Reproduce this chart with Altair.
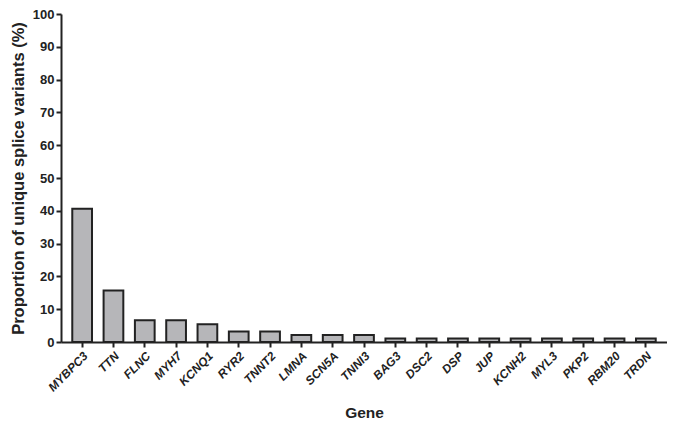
import altair as alt
import pandas as pd

genes = ["MYBPC3", "TTN", "FLNC", "MYH7", "KCNQ1", "RYR2", "TNNT2", "LMNA", "SCN5A",
         "TNNI3", "BAG3", "DSC2", "DSP", "JUP", "KCNH2", "MYL3", "PKP2", "RBM20", "TRDN"]
values = [40.6, 15.7, 6.6, 6.6, 5.4, 3.2, 3.2, 2.1, 2.1,
          2.1, 1.1, 1.1, 1.1, 1.1, 1.1, 1.1, 1.1, 1.1, 1.1]
y_ticks = list(range(0, 101, 10))

df = pd.DataFrame({"gene": genes, "value": values})

FONT = "Liberation Sans"
DARK = "#222222"

chart = alt.Chart(df).mark_bar(
    color="#b6b6b9", stroke=DARK, strokeWidth=2
).encode(
    x=alt.X("gene:N", sort=genes, title="Gene",
            scale=alt.Scale(paddingInner=0.37, paddingOuter=0.36),
            axis=alt.Axis(labelAngle=-45, labelAlign="right", labelBaseline="top",
                          labelFontStyle="italic", labelFontWeight="bold",
                          labelFontSize=12, labelFont=FONT, labelColor=DARK,
                          labelPadding=3, tickSize=5, tickWidth=2, tickColor=DARK,
                          domainWidth=2, domainColor=DARK,
                          titleFont=FONT, titleFontSize=15.5, titleFontWeight="bold",
                          titleColor=DARK, titlePadding=12)),
    y=alt.Y("value:Q", title="Proportion of unique splice variants (%)",
            scale=alt.Scale(domain=[0, 100], nice=False),
            axis=alt.Axis(values=y_ticks, grid=False, tickSize=5, tickWidth=2,
                          tickColor=DARK, domainWidth=2, domainColor=DARK,
                          labelFont=FONT, labelFontSize=13, labelFontWeight="bold",
                          labelColor=DARK, labelPadding=2,
                          titleFont=FONT, titleFontSize=16.5, titleFontWeight="bold",
                          titleColor=DARK, titlePadding=6)),
).properties(
    width=606, height=328,
    autosize=alt.AutoSizeParams(type="none"),
    padding={"left": 53, "top": 6, "right": 0, "bottom": 80},
).configure_view(stroke=None)

chart.save("out.html", embed_options={"renderer": "svg", "actions": False})
